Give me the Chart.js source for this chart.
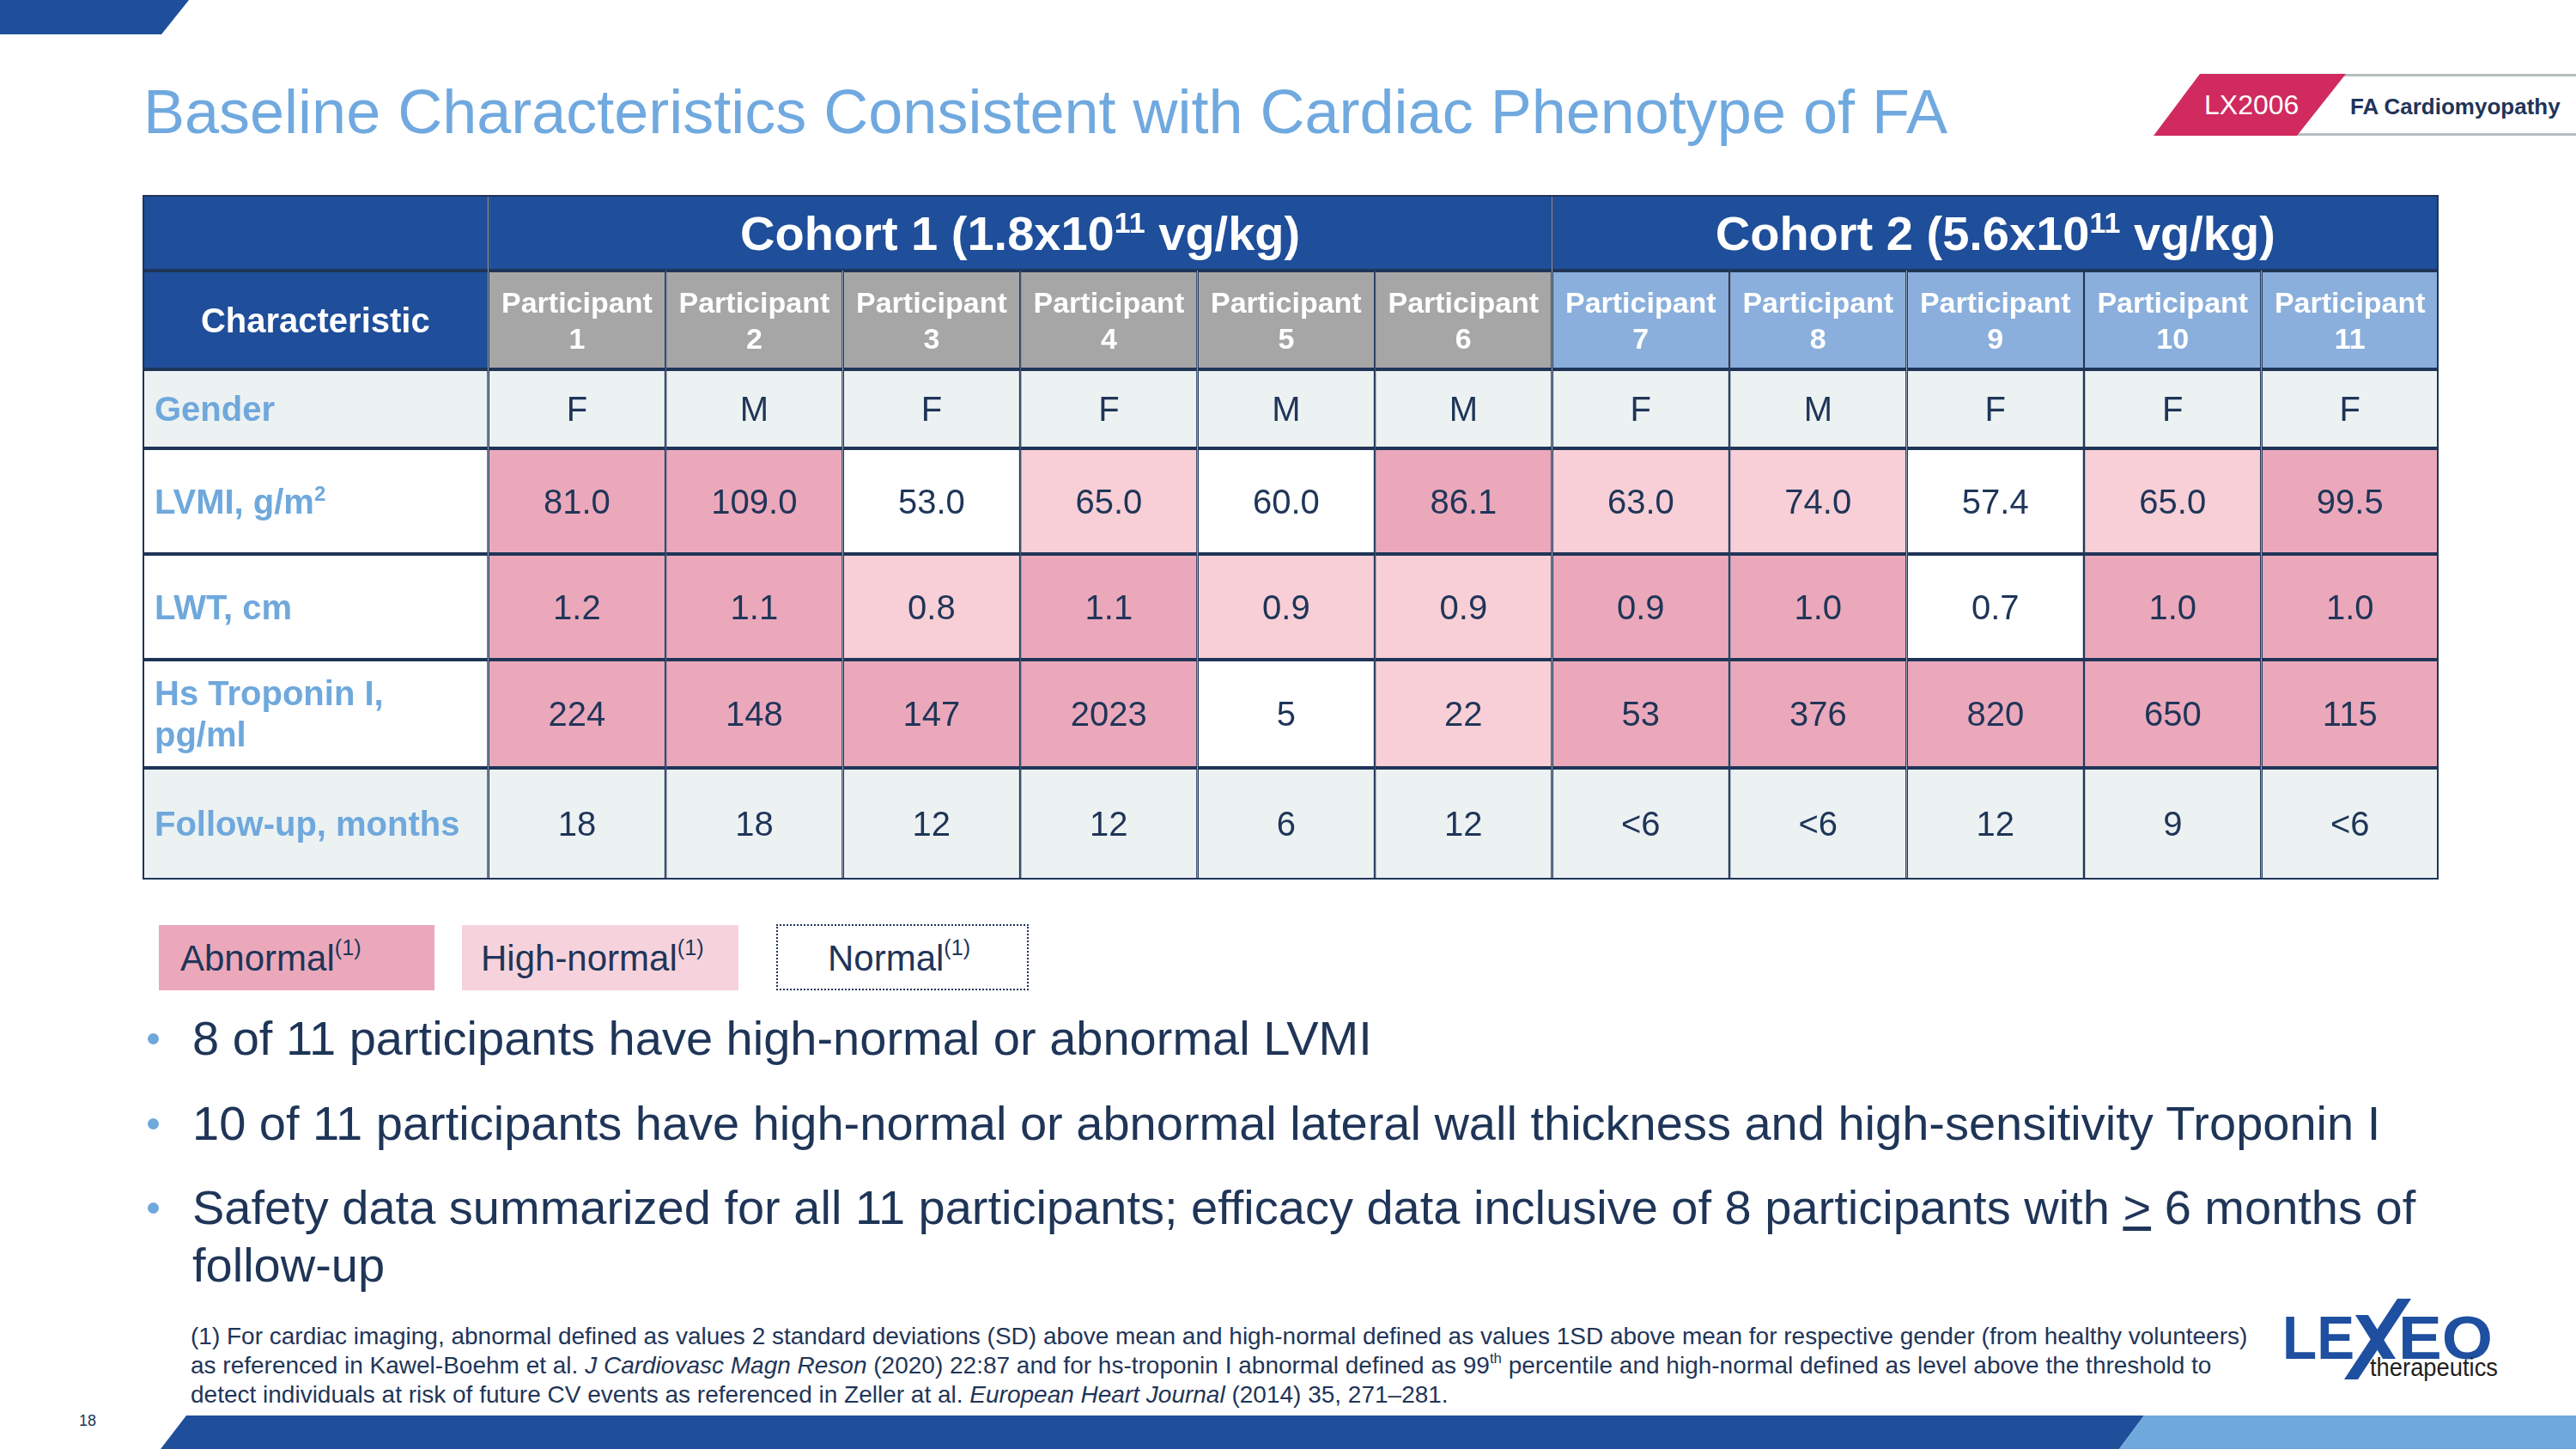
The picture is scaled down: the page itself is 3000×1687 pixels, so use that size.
<!DOCTYPE html>
<html>
<head>
<meta charset="utf-8">
<script src="https://cdn.jsdelivr.net/npm/chart.js@4.4.1/dist/chart.umd.min.js"></script>
<style>
body { margin: 0; background: #fff; }
#slide { position: relative; width: 3000px; height: 1687px; overflow: hidden; background: #fff;
  font-family: "Liberation Sans", Arial, sans-serif; color: #1f3558; }
.t { position: absolute; white-space: nowrap; line-height: 1; }
.sup { font-size: 60%; position: relative; top: -0.7em; }
.box { position: absolute; box-sizing: border-box; }
.dot { position: absolute; width: 13px; height: 13px; border-radius: 50%; background: #6fa8dc; }
.bullet { position: absolute; left: 224px; font-size: 56px; line-height: 67px; white-space: nowrap; }
#foot { position: absolute; left: 222px; top: 1539px; font-size: 28px; line-height: 34px; white-space: nowrap; }
#foot sup { font-size: 60%; line-height: 0; vertical-align: 0.7em; }
</style>
</head>
<body>
<div id="slide">
  <svg width="3000" height="1687" style="position:absolute;left:0;top:0">
    <polygon points="0,0 220,0 188,40 0,40" fill="#1f4e9a"/>
    <polygon points="217,1648 2497,1648 2468,1687 187,1687" fill="#1f4e9a"/>
    <polygon points="2497,1648 3000,1648 3000,1687 2468,1687" fill="#6fa8dc"/>
    <rect x="2700" y="86" width="300" height="3" fill="#b5bebf"/>
    <rect x="2650" y="155" width="350" height="3" fill="#b5bebf"/>
    <polygon points="2562,86 2732,86 2675,158 2508,158" fill="#d02a5e"/>
    <text x="2658" y="1582" font-family="Liberation Sans" font-weight="bold" font-size="71" fill="#1e4fa0" textLength="84" lengthAdjust="spacingAndGlyphs">LE</text>
    <text x="2793" y="1582" font-family="Liberation Sans" font-weight="bold" font-size="71" fill="#1e4fa0" textLength="110" lengthAdjust="spacingAndGlyphs">EO</text>
    <polygon points="2792,1512 2808,1512 2746,1606 2730,1606" fill="#1e4fa0"/>
    <polygon points="2743,1531 2758,1531 2790,1582 2775,1582" fill="#1e4fa0"/>
    <text x="2760" y="1602" font-family="Liberation Sans" font-size="30" fill="#231f20" textLength="149" lengthAdjust="spacingAndGlyphs">therapeutics</text>
  </svg>

  <div class="t" style="left:167px;top:94px;font-size:72px;color:#70a9df">Baseline Characteristics Consistent with Cardiac Phenotype of FA</div>
  <div class="t" style="left:2567px;top:106px;font-size:32px;color:#fff">LX2006</div>
  <div class="t" style="left:2737px;top:111px;font-size:26px;font-weight:bold;color:#1f3558">FA Cardiomyopathy</div>

  <div id="tableBox" style="position:absolute;left:166px;top:227px;width:2674px;height:797px">
    <canvas id="tbl"></canvas>
  </div>

  <div class="box" style="left:185px;top:1077px;width:321px;height:76px;background:#eba8bb"></div>
  <div class="box" style="left:538px;top:1077px;width:322px;height:76px;background:#f6d3dc"></div>
  <div class="box" style="left:904px;top:1076px;width:294px;height:77px;border:2px dotted #1f3558"></div>
  <div class="t" style="left:210px;top:1095px;font-size:42px">Abnormal<span class="sup">(1)</span></div>
  <div class="t" style="left:560px;top:1095px;font-size:42px">High-normal<span class="sup">(1)</span></div>
  <div class="t" style="left:964px;top:1095px;font-size:42px">Normal<span class="sup">(1)</span></div>

  <div class="dot" style="left:172px;top:1203px"></div>
  <div class="bullet" style="top:1175px">8 of 11 participants have high-normal or abnormal LVMI</div>
  <div class="dot" style="left:172px;top:1302px"></div>
  <div class="bullet" style="top:1274px">10 of 11 participants have high-normal or abnormal lateral wall thickness and high-sensitivity Troponin I</div>
  <div class="dot" style="left:172px;top:1400px"></div>
  <div class="bullet" style="top:1372px">Safety data summarized for all 11 participants; efficacy data inclusive of 8 participants with <u>&gt;</u> 6 months of<br>follow-up</div>

  <div id="foot">(1) For cardiac imaging, abnormal defined as values 2 standard deviations (SD) above mean and high-normal defined as values 1SD above mean for respective gender (from healthy volunteers)<br>as referenced in Kawel-Boehm et al. <i>J Cardiovasc Magn Reson</i> (2020) 22:87 and for hs-troponin I abnormal defined as 99<sup>th</sup> percentile and high-normal defined as level above the threshold to<br>detect individuals at risk of future CV events as referenced in Zeller at al. <i>European Heart Journal</i> (2014) 35, 271–281.</div>
  <div class="t" style="left:92px;top:1645px;font-size:18px">18</div>
</div>

<script>
// table data
const cohortNames = ['Cohort 1', 'Cohort 2']
const cohortDoses = ['1.8', '5.6']
const doseExponent = 11
const cohortSizes = [6, 5]
const participants = ['1', '2', '3', '4', '5', '6', '7', '8', '9', '10', '11']
const characteristics = ['Gender', 'LVMI, g/m^{2}', 'LWT, cm', 'Hs Troponin I,\npg/ml', 'Follow-up, months']

const gender = ['F', 'M', 'F', 'F', 'M', 'M', 'F', 'M', 'F', 'F', 'F']
const lvmi = [81.0, 109.0, 53.0, 65.0, 60.0, 86.1, 63.0, 74.0, 57.4, 65.0, 99.5]
const lvmiLevel = ['A', 'A', 'N', 'H', 'N', 'A', 'H', 'H', 'N', 'H', 'A']
const lwt = [1.2, 1.1, 0.8, 1.1, 0.9, 0.9, 0.9, 1.0, 0.7, 1.0, 1.0]
const lwtLevel = ['A', 'A', 'H', 'A', 'H', 'H', 'A', 'A', 'N', 'A', 'A']
const troponin = [224, 148, 147, 2023, 5, 22, 53, 376, 820, 650, 115]
const troponinLevel = ['A', 'A', 'A', 'A', 'N', 'H', 'A', 'A', 'A', 'A', 'A']
const followUp = ['18', '18', '12', '12', '6', '12', '<6', '<6', '12', '9', '<6']

// colours
const BLUE = '#1f4e9a'
const GRAY = '#a6a6a6'
const SKY = '#8aafdc'
const LIGHT = '#ecf1f2'
const GRID = '#1f3558'
const NAVY = '#1f3558'
const LABEL = '#6fa8dc'
const levelColors = { A: '#eba8bb', H: '#f8cfd6', N: '#ffffff' }

// layout (x in units of 1/20 participant column, y in px of the table)
const COL_W = 20
const CHAR_W = 39
const xMax = CHAR_W + participants.length * COL_W
const rowHeights = [88, 115, 92, 123, 123, 126, 130]
const rowEdges = [0]
rowHeights.forEach(h => rowEdges.push(rowEdges[rowEdges.length - 1] + h))
const tableH = rowEdges[rowEdges.length - 1]

const colCenter = i => CHAR_W + COL_W * i + COL_W / 2
const cohortOf = i => {
   let acc = 0
   for (let c = 0; c < cohortSizes.length; c++) {
      acc += cohortSizes[c]
      if (i < acc) return c
   }
   return cohortSizes.length - 1
}

const rows = [
   { values: gender, fmt: v => v },
   { values: lvmi, levels: lvmiLevel, fmt: v => v.toFixed(1) },
   { values: lwt, levels: lwtLevel, fmt: v => v.toFixed(1) },
   { values: troponin, levels: troponinLevel, fmt: v => String(v) },
   { values: followUp, fmt: v => v }
]

const cell = {
   type: 'bar',
   grouped: false,
   categoryPercentage: 1,
   borderColor: GRID,
   borderWidth: { top: 2, bottom: 2, left: 1.5, right: 1.5 },
   borderSkipped: false
}

const datasets = []

datasets.push({
   ...cell, label: 'frame', xAxisID: 'xs', order: -1,
   data: [{ x: xMax / 2, y: [0, tableH] }],
   barPercentage: xMax, backgroundColor: 'rgba(0,0,0,0)', borderWidth: 2
})

// first column: empty corner + "Characteristic" header
datasets.push({
   ...cell, label: 'Characteristic', xAxisID: 'x',
   data: [{ x: CHAR_W / 2, y: [0, rowEdges[1]] }, { x: CHAR_W / 2, y: [rowEdges[1], rowEdges[2]] }],
   barPercentage: CHAR_W, backgroundColor: BLUE,
   text: [null, 'Characteristic'], fontSize: 40, fontWeight: 'bold', textColor: '#fff'
})

let start = 0
cohortNames.forEach((name, c) => {
   const size = cohortSizes[c]
   datasets.push({
      ...cell, label: name, xAxisID: 'xs',
      data: [{ x: CHAR_W + (start + size / 2) * COL_W, y: [0, rowEdges[1]] }],
      barPercentage: size * COL_W, backgroundColor: BLUE,
      text: [`${name} (${cohortDoses[c]}x10^{${doseExponent}} vg/kg)`],
      fontSize: 56, fontWeight: 'bold', textColor: '#fff'
   })
   start += size
})

datasets.push({
   ...cell, label: 'participants', xAxisID: 'x',
   data: participants.map((p, i) => ({ x: colCenter(i), y: [rowEdges[1], rowEdges[2]] })),
   barPercentage: COL_W,
   backgroundColor: participants.map((p, i) => cohortOf(i) === 0 ? GRAY : SKY),
   text: participants.map(p => 'Participant\n' + p),
   fontSize: 34, fontWeight: 'bold', textColor: '#fff', lineHeight: 42
})

datasets.push({
   ...cell, label: 'characteristics', xAxisID: 'x',
   data: characteristics.map((c, r) => ({ x: CHAR_W / 2, y: [rowEdges[r + 2], rowEdges[r + 3]] })),
   barPercentage: CHAR_W,
   backgroundColor: rows.map(row => row.levels ? '#ffffff' : LIGHT),
   text: characteristics,
   fontSize: 40, fontWeight: 'bold', textColor: LABEL, lineHeight: 48, align: 'left', padLeft: 14
})

rows.forEach((row, r) => {
   datasets.push({
      ...cell, label: characteristics[r], xAxisID: 'x',
      data: participants.map((p, i) => ({ x: colCenter(i), y: [rowEdges[r + 2], rowEdges[r + 3]] })),
      barPercentage: COL_W,
      backgroundColor: row.levels ? row.levels.map(l => levelColors[l]) : LIGHT,
      text: row.values.map(row.fmt),
      fontSize: 40, fontWeight: 'normal', textColor: NAVY
   })
})

// text with ^{superscript} parts
function drawRich(ctx, str, x, y, size, weight, color, align) {
   const parts = str.split(/\^\{([^}]*)\}/)
   const fontFor = sup => `${weight} ${sup ? Math.round(size * 0.6) : size}px "Liberation Sans", Arial, sans-serif`
   let total = 0
   const widths = parts.map((p, k) => {
      ctx.font = fontFor(k % 2)
      const w = ctx.measureText(p).width
      total += w
      return w
   })
   let cx = align === 'left' ? x : x - total / 2
   ctx.save()
   ctx.fillStyle = color
   ctx.textBaseline = 'alphabetic'
   ctx.textAlign = 'left'
   parts.forEach((p, k) => {
      ctx.font = fontFor(k % 2)
      ctx.fillText(p, cx, k % 2 ? y - size * 0.36 : y)
      cx += widths[k]
   })
   ctx.restore()
}

const cellText = {
   id: 'cellText',
   afterDatasetsDraw(chart) {
      const ctx = chart.ctx
      chart.data.datasets.forEach((ds, di) => {
         if (!ds.text) return
         chart.getDatasetMeta(di).data.forEach((bar, i) => {
            const t = ds.text[i]
            if (t == null) return
            const { x, y, base, width } = bar.getProps(['x', 'y', 'base', 'width'], true)
            const cy = (y + base) / 2
            const lines = String(t).split('\n')
            const lh = ds.lineHeight || ds.fontSize * 1.2
            lines.forEach((line, k) => {
               const ly = cy + (k - (lines.length - 1) / 2) * lh + ds.fontSize * 0.358
               const lx = ds.align === 'left' ? x - width / 2 + ds.padLeft : x
               drawRich(ctx, line, lx, ly, ds.fontSize, ds.fontWeight, ds.textColor, ds.align || 'center')
            })
         })
      })
   }
}

// one tick per unit so the bar ruler measures one unit
const hiddenLinear = extra => Object.assign({
   type: 'linear', display: false, offset: false, min: 0, max: xMax,
   ticks: { stepSize: 1, autoSkip: false, display: false }, grid: { display: false }
}, extra)

const tableChart = new Chart(document.getElementById('tbl'), {
   type: 'bar',
   data: { datasets },
   options: {
      responsive: true,
      maintainAspectRatio: false,
      animation: false,
      devicePixelRatio: 1,
      events: [],
      layout: { padding: 0 },
      plugins: { legend: { display: false }, tooltip: { enabled: false } },
      scales: {
         x: hiddenLinear({}),
         xs: hiddenLinear({ axis: 'x' }),
         y: { type: 'linear', display: false, reverse: true, min: 0, max: tableH, grid: { display: false } }
      }
   },
   plugins: [cellText]
})
</script>
</body>
</html>
